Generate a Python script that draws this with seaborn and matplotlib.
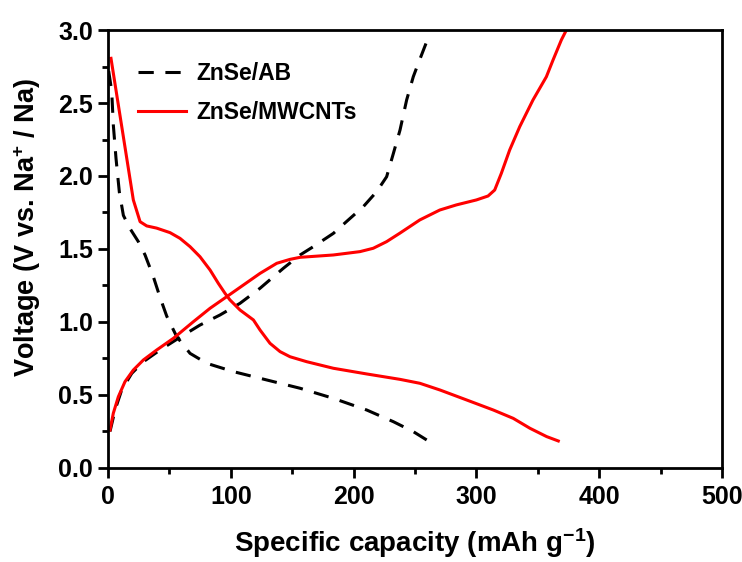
import matplotlib
matplotlib.use("Agg")
import matplotlib.pyplot as plt
from matplotlib.lines import Line2D
from matplotlib.ticker import MultipleLocator
import pandas as pd
import seaborn as sns

# ZnSe/AB discharge and charge profiles (capacity in mAh/g, voltage in V)
ab_dis_cap = [0.5, 3.0, 4.3, 6.5, 9.2, 12.5, 17.9, 24.7, 30.1, 34.2, 36.9, 42.3,
              47.8, 55.9, 66.8, 80.4, 102.1, 129.2, 156.4, 183.5, 210.7, 232.4,
              248.6, 259.5]
ab_dis_v = [2.72, 2.58, 2.35, 2.12, 1.89, 1.73, 1.64, 1.55, 1.46, 1.37, 1.31,
            1.17, 1.04, 0.90, 0.785, 0.717, 0.66, 0.603, 0.546, 0.477, 0.397,
            0.317, 0.249, 0.192]
ab_chg_cap = [1.6, 5.7, 11.1, 19.3, 28.8, 42.3, 58.6, 74.9, 91.2, 107.5, 123.8,
              142.8, 156.4, 167.2, 183.5, 195.7, 207.9, 218.8, 226.9, 232.4,
              237.8, 243.2, 248.6, 252.7, 259.5]
ab_chg_v = [0.25, 0.397, 0.534, 0.648, 0.728, 0.808, 0.895, 0.979, 1.048, 1.128,
            1.231, 1.368, 1.459, 1.516, 1.607, 1.699, 1.79, 1.893, 1.995, 2.155,
            2.315, 2.521, 2.68, 2.772, 2.92]

# ZnSe/MWCNTs discharge and charge profiles
cnt_dis_cap = [2.4, 20.6, 26.1, 31.5, 39.6, 50.5, 58.6, 66.8, 74.9, 83.1, 89.8,
               95.3, 99.3, 107.5, 118.4, 123.8, 131.9, 140.1, 148.2, 161.8,
               183.5, 210.7, 237.8, 254.0, 270.4, 292.0, 313.8, 330.0, 343.6,
               357.2, 366.7]
cnt_dis_v = [2.806, 1.836, 1.687, 1.658, 1.643, 1.612, 1.573, 1.516, 1.447,
             1.356, 1.265, 1.196, 1.151, 1.082, 1.014, 0.945, 0.854, 0.797,
             0.762, 0.728, 0.683, 0.644, 0.607, 0.58, 0.534, 0.466, 0.397,
             0.34, 0.272, 0.215, 0.185]
cnt_chg_cap = [1.6, 4.3, 8.4, 13.8, 20.6, 28.8, 39.6, 53.2, 69.5, 83.1, 96.6,
               110.2, 123.8, 137.4, 148.2, 156.4, 183.5, 205.2, 216.0, 226.8,
               237.6, 253.9, 270.2, 283.7, 300.0, 309.5, 314.9, 320.3, 327.1,
               335.3, 346.1, 357.0, 362.4, 369.2, 373.3]
cnt_chg_v = [0.26, 0.375, 0.488, 0.591, 0.671, 0.74, 0.808, 0.888, 1.002, 1.094,
             1.173, 1.253, 1.333, 1.402, 1.429, 1.443, 1.459, 1.482, 1.505,
             1.55, 1.608, 1.699, 1.767, 1.802, 1.836, 1.863, 1.904, 2.018,
             2.178, 2.338, 2.521, 2.68, 2.794, 2.932, 3.0]

series_names = ["ZnSe/AB", "ZnSe/MWCNTs"]
series_colors = {"ZnSe/AB": "black", "ZnSe/MWCNTs": "#ff0000"}
DASH = (0, (5.0, 3.8))
LW = 2.2

plt.rcParams["font.family"] = ["Liberation Sans", "DejaVu Sans"]
plt.rcParams["font.weight"] = "bold"
plt.rcParams["mathtext.fontset"] = "custom"
plt.rcParams["mathtext.rm"] = "Liberation Sans:bold"
plt.rcParams["mathtext.it"] = "Liberation Sans:italic:bold"
plt.rcParams["mathtext.bf"] = "Liberation Sans:bold"

fig, ax = plt.subplots(figsize=(7.42, 5.62), dpi=100)
fig.subplots_adjust(left=0.1456, right=0.973, top=0.9466, bottom=0.1673)

curves = [
    ("ZnSe/AB", ab_dis_cap, ab_dis_v),
    ("ZnSe/AB", ab_chg_cap, ab_chg_v),
    ("ZnSe/MWCNTs", cnt_dis_cap, cnt_dis_v),
    ("ZnSe/MWCNTs", cnt_chg_cap, cnt_chg_v),
]
for name, cap, volt in curves:
    df = pd.DataFrame({"cap": cap, "volt": volt})
    sns.lineplot(data=df, x="cap", y="volt", ax=ax, sort=False, estimator=None,
                 color=series_colors[name], linewidth=LW)
    line = ax.lines[-1]
    line.set_solid_joinstyle("round")
    line.set_dash_joinstyle("round")
    if name == "ZnSe/AB":
        line.set_linestyle(DASH)

ax.set_xlim(0, 500)
ax.set_ylim(0, 3.0)
ax.xaxis.set_major_locator(MultipleLocator(100))
ax.xaxis.set_minor_locator(MultipleLocator(50))
ax.yaxis.set_major_locator(MultipleLocator(0.5))
ax.yaxis.set_minor_locator(MultipleLocator(0.25))
ax.tick_params(which="both", direction="out", width=2, top=False, right=False,
               labelsize=18)
ax.tick_params(which="major", length=7)
ax.tick_params(which="minor", length=4)
ax.tick_params(axis="x", pad=5)
ax.tick_params(axis="y", pad=4)
for lab in ax.get_xticklabels() + ax.get_yticklabels():
    lab.set_fontweight("bold")
for sp in ax.spines.values():
    sp.set_linewidth(2)
    sp.set_color("black")

ax.set_xlabel("Specific capacity (mAh g$^{-1}$)", fontsize=20, fontweight="bold",
              labelpad=13)
ax.set_ylabel("Voltage (V vs. Na$^{+}$ / Na)", fontsize=19.5,
              fontweight="bold", labelpad=8)
ax.yaxis.set_label_coords(-0.106, 0.55)

handles = [
    Line2D([], [], color="black", linewidth=LW, linestyle=DASH),
    Line2D([], [], color="#ff0000", linewidth=LW),
]
ax.legend(handles, series_names, loc="upper left", frameon=False,
          bbox_to_anchor=(0.015, 0.975), handlelength=2.1, handletextpad=0.45,
          labelspacing=0.7, prop={"size": 16.5, "weight": "bold"})

fig.savefig("out.png", dpi=100)
